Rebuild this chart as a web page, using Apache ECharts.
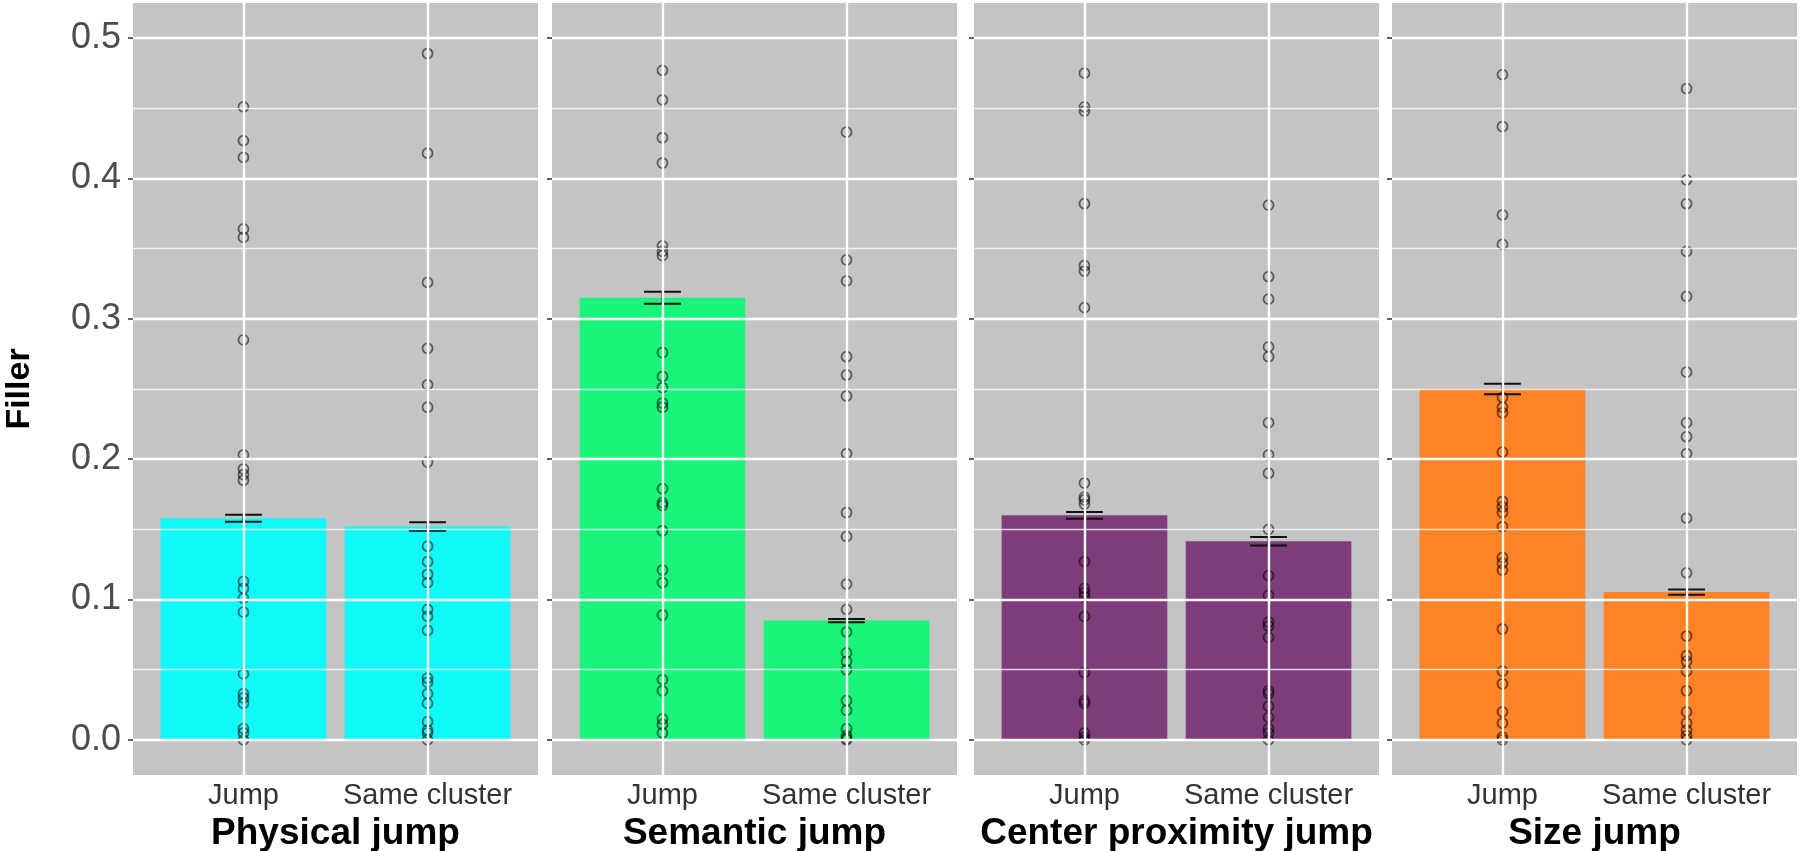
<!DOCTYPE html>
<html><head><meta charset="utf-8">
<script src="https://cdn.jsdelivr.net/npm/echarts@6/dist/echarts.min.js"></script>
<style>html,body{margin:0;padding:0;background:#fff}#c{width:1800px;height:851px}</style>
</head><body><div id="c"></div>
<script>
// ---- data ----
const categories = ['Jump', 'Same cluster'];
const panelTitles = ['Physical jump', 'Semantic jump', 'Center proximity jump', 'Size jump'];
const yAxisTitle = 'Filler';
const yTicks = [0, 0.1, 0.2, 0.3, 0.4, 0.5];
const yMinorTicks = [0.05, 0.15, 0.25, 0.35, 0.45];
const barColors = ['#10F8F8', '#1BF47A', '#7E3D7A', '#FE8226'];

const meanPhysical = [0.158, 0.152];
const sePhysical = [0.0025, 0.003];
const meanSemantic = [0.315, 0.085];
const seSemantic = [0.0043, 0.0012];
const meanCenter = [0.160, 0.1415];
const seCenter = [0.0024, 0.003];
const meanSize = [0.250, 0.1053];
const seSize = [0.0038, 0.0018];

const physicalJump = [0.451, 0.427, 0.415, 0.364, 0.358, 0.285, 0.203, 0.193, 0.189, 0.185, 0.113, 0.108, 0.101, 0.091, 0.047, 0.033, 0.030, 0.026, 0.008, 0.005, 0.000];
const physicalSame = [0.489, 0.418, 0.326, 0.279, 0.253, 0.237, 0.198, 0.138, 0.127, 0.118, 0.112, 0.093, 0.088, 0.078, 0.044, 0.041, 0.033, 0.026, 0.013, 0.007, 0.005, 0.000];
const semanticJump = [0.477, 0.456, 0.429, 0.411, 0.352, 0.348, 0.345, 0.276, 0.259, 0.251, 0.240, 0.237, 0.179, 0.169, 0.167, 0.149, 0.121, 0.112, 0.089, 0.043, 0.035, 0.015, 0.011, 0.005];
const semanticSame = [0.433, 0.342, 0.327, 0.273, 0.260, 0.245, 0.204, 0.162, 0.145, 0.111, 0.093, 0.077, 0.062, 0.056, 0.050, 0.028, 0.021, 0.008, 0.003, 0.001, 0.000];
const centerJump = [0.475, 0.451, 0.448, 0.382, 0.338, 0.334, 0.308, 0.183, 0.173, 0.171, 0.168, 0.127, 0.108, 0.105, 0.102, 0.088, 0.048, 0.028, 0.026, 0.005, 0.002, 0.000];
const centerSame = [0.381, 0.330, 0.314, 0.280, 0.273, 0.226, 0.203, 0.190, 0.150, 0.117, 0.103, 0.084, 0.081, 0.073, 0.035, 0.033, 0.024, 0.016, 0.008, 0.005, 0.000];
const sizeJump = [0.474, 0.437, 0.374, 0.353, 0.244, 0.237, 0.233, 0.205, 0.170, 0.166, 0.162, 0.152, 0.130, 0.126, 0.121, 0.079, 0.049, 0.040, 0.020, 0.012, 0.002, 0.000];
const sizeSame = [0.464, 0.399, 0.382, 0.348, 0.316, 0.262, 0.226, 0.216, 0.204, 0.158, 0.119, 0.074, 0.060, 0.056, 0.049, 0.035, 0.020, 0.012, 0.007, 0.003, 0.000];

// ---- build ----
const panels = [
  { mean: meanPhysical, se: sePhysical, pts: [physicalJump, physicalSame] },
  { mean: meanSemantic, se: seSemantic, pts: [semanticJump, semanticSame] },
  { mean: meanCenter, se: seCenter, pts: [centerJump, centerSame] },
  { mean: meanSize, se: seSize, pts: [sizeJump, sizeSame] }
];
const lefts = [133, 552, 974, 1392];
const FONT = 'Liberation Sans';
const catPos = categories.map((c, j) => j + 1);

const grid = [], xAxis = [], yAxis = [], series = [];
panels.forEach((p, i) => {
  grid.push({ left: lefts[i], top: 3, width: 405, bottom: 76, show: true, backgroundColor: '#C4C4C4', borderWidth: 0, containLabel: false, outerBoundsMode: 'none' });
  xAxis.push({
    gridIndex: i, type: 'value', min: 0.4, max: 2.6,
    axisLine: { show: false },
    axisTick: { show: true, customValues: catPos, length: 5, lineStyle: { color: '#333', width: 1.5 } },
    axisLabel: { customValues: catPos, formatter: v => categories[Math.round(v) - 1], fontSize: 29, color: '#333', margin: 6, fontFamily: FONT },
    splitLine: { show: false },
    name: panelTitles[i], nameLocation: 'middle', nameGap: 31,
    nameTextStyle: { fontSize: 37, fontWeight: 'bold', color: '#000', fontFamily: FONT }
  });
  yAxis.push({
    gridIndex: i, type: 'value', min: -0.025, max: 0.525,
    axisLine: { show: false },
    axisTick: { show: true, customValues: yTicks, length: 5, lineStyle: { color: '#333', width: 1.5 } },
    axisLabel: { show: i === 0, customValues: yTicks, formatter: v => v.toFixed(1), fontSize: 36, color: '#4D4D4D', margin: 12, fontFamily: FONT },
    splitLine: { show: false },
    name: i === 0 ? yAxisTitle : '', nameLocation: 'middle', nameGap: 96, nameRotate: 90,
    nameTextStyle: { fontSize: 34, fontWeight: 'bold', color: '#000', fontFamily: FONT }
  });
  // grid lines
  series.push({
    type: 'line', xAxisIndex: i, yAxisIndex: i, data: [], z: 1, silent: true, animation: false,
    markLine: {
      symbol: ['none', 'none'], silent: true, animation: false, label: { show: false },
      lineStyle: { type: 'solid', color: '#fff', width: 2 },
      emphasis: { disabled: true },
      data: [
        ...yMinorTicks.map(v => ({ yAxis: v, lineStyle: { type: 'solid', width: 1.3, color: 'rgba(255,255,255,0.75)' } })),
        ...yTicks.map(v => ({ yAxis: v, lineStyle: { type: 'solid', width: 2.4, color: '#FFFFFF' } })),
        ...catPos.map(v => ({ xAxis: v, lineStyle: { type: 'solid', width: 2.4, color: '#FFFFFF' } }))
      ]
    }
  });
  // bars
  series.push({
    type: 'custom', xAxisIndex: i, yAxisIndex: i, z: 2, animation: false, silent: true,
    data: p.mean.map((m, j) => [catPos[j], m]),
    encode: { x: 0, y: 1 },
    renderItem: (params, api) => {
      const x = api.value(0), y = api.value(1);
      const tl = api.coord([x - 0.45, y]);
      const br = api.coord([x + 0.45, 0]);
      return { type: 'rect', shape: { x: tl[0], y: tl[1], width: br[0] - tl[0], height: br[1] - tl[1] }, style: { fill: barColors[i] } };
    }
  });
  // error bars
  series.push({
    type: 'custom', xAxisIndex: i, yAxisIndex: i, z: 3, animation: false, silent: true,
    data: p.mean.map((m, j) => [catPos[j], m, p.se[j]]),
    encode: { x: 0, y: 1 },
    renderItem: (params, api) => {
      const x = api.value(0), m = api.value(1), s = api.value(2);
      const hi = api.coord([x, m + s]), lo = api.coord([x, m - s]);
      const l = api.coord([x - 0.1, m])[0], r = api.coord([x + 0.1, m])[0];
      const st = { stroke: '#111', lineWidth: 2 };
      return { type: 'group', children: [
        { type: 'line', shape: { x1: l, y1: hi[1], x2: r, y2: hi[1] }, style: st },
        { type: 'line', shape: { x1: l, y1: lo[1], x2: r, y2: lo[1] }, style: st },
        { type: 'line', shape: { x1: hi[0], y1: hi[1], x2: lo[0], y2: lo[1] }, style: st }
      ] };
    }
  });
  // points
  const pts = [];
  p.pts.forEach((arr, j) => arr.forEach(v => pts.push([catPos[j], v])));
  series.push({
    type: 'scatter', xAxisIndex: i, yAxisIndex: i, z: 4, animation: false, silent: true,
    data: pts, symbol: 'circle', symbolSize: 10,
    itemStyle: { color: 'rgba(0,0,0,0)', borderColor: 'rgba(0,0,0,0.68)', borderWidth: 1.8 }
  });
});

const chart = echarts.init(document.getElementById('c'), null, { renderer: 'canvas' });
chart.setOption({ backgroundColor: '#FFFFFF', animation: false, grid, xAxis, yAxis, series });
</script>
</body></html>
